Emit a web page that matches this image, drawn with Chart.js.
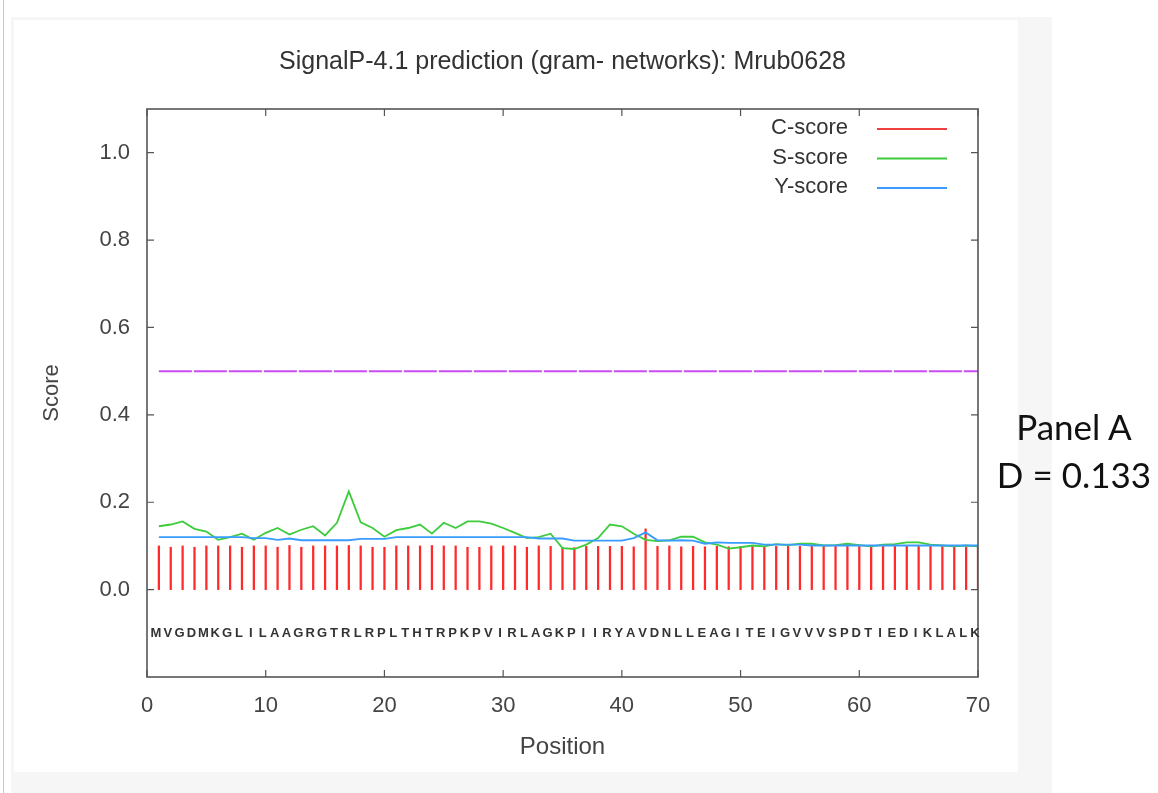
<!DOCTYPE html>
<html>
<head>
<meta charset="utf-8">
<script src="https://cdn.jsdelivr.net/npm/chart.js@4.4.1/dist/chart.umd.min.js"></script>
<style>
  body { margin: 0; background: #fff; width: 1158px; height: 793px; overflow: hidden; position: relative; font-family: 'Liberation Sans', Arial, sans-serif; }
  #edge { position: absolute; left: 3px; top: 0; width: 1px; height: 793px; background: #c8c8c8; }
  #frame { position: absolute; left: 11px; top: 17px; width: 1041px; height: 776px; background: #f6f6f6; }
  #inner { position: absolute; left: 14px; top: 20px; width: 1004px; height: 752px; background: #fff; }
  #chart { position: absolute; left: 0; top: 0; }
  #note { position: absolute; left: 985px; top: 402px; width: 178px; text-align: center; font-family: Lato, 'Open Sans', sans-serif; font-size: 35px; line-height: 48px; color: #111; }
</style>
</head>
<body>
<div id="edge"></div>
<div id="frame"></div>
<div id="inner"></div>
<canvas id="chart" width="1158" height="793"></canvas>
<div id="note">Panel A<br>D = 0.133</div>
<script>
const chartTitle = 'SignalP-4.1 prediction (gram- networks): Mrub0628';
const residues = ['M','V','G','D','M','K','G','L','I','L','A','A','G','R','G','T','R','L','R','P',
  'L','T','H','T','R','P','K','P','V','I','R','L','A','G','K','P','I','I','R','Y',
  'A','V','D','N','L','L','E','A','G','I','T','E','I','G','V','V','V','S','P','D',
  'T','I','E','D','I','K','L','A','L','K'];

const cScore = [0.100, 0.097, 0.100, 0.097, 0.100, 0.100, 0.100, 0.097, 0.100, 0.100,
  0.097, 0.101, 0.097, 0.100, 0.100, 0.100, 0.101, 0.100, 0.097, 0.097,
  0.100, 0.100, 0.100, 0.101, 0.100, 0.100, 0.097, 0.097, 0.100, 0.100,
  0.100, 0.097, 0.100, 0.099, 0.097, 0.096, 0.099, 0.099, 0.099, 0.099,
  0.098, 0.139, 0.099, 0.100, 0.098, 0.099, 0.098, 0.099, 0.098, 0.099,
  0.100, 0.099, 0.099, 0.099, 0.099, 0.099, 0.099, 0.099, 0.099, 0.099,
  0.099, 0.099, 0.099, 0.099, 0.099, 0.099, 0.099, 0.099, 0.098, 0.098];

const sScore = [0.145, 0.149, 0.156, 0.139, 0.133, 0.114, 0.120, 0.128, 0.114, 0.130,
  0.141, 0.126, 0.137, 0.145, 0.124, 0.153, 0.225, 0.154, 0.141, 0.121,
  0.136, 0.141, 0.149, 0.128, 0.153, 0.141, 0.156, 0.156, 0.151, 0.141,
  0.130, 0.118, 0.120, 0.128, 0.095, 0.093, 0.103, 0.118, 0.149, 0.145,
  0.128, 0.114, 0.111, 0.113, 0.121, 0.121, 0.108, 0.103, 0.094, 0.097,
  0.101, 0.099, 0.104, 0.102, 0.105, 0.105, 0.101, 0.102, 0.105, 0.102,
  0.099, 0.103, 0.104, 0.108, 0.108, 0.103, 0.101, 0.099, 0.101, 0.099];

const yScore = [0.120, 0.120, 0.120, 0.120, 0.120, 0.120, 0.120, 0.120, 0.118, 0.118,
  0.114, 0.117, 0.113, 0.113, 0.113, 0.113, 0.113, 0.116, 0.116, 0.116,
  0.120, 0.120, 0.120, 0.120, 0.120, 0.120, 0.120, 0.120, 0.120, 0.120,
  0.120, 0.120, 0.117, 0.117, 0.117, 0.112, 0.112, 0.112, 0.112, 0.112,
  0.118, 0.131, 0.113, 0.112, 0.113, 0.112, 0.105, 0.108, 0.107, 0.107,
  0.107, 0.103, 0.103, 0.103, 0.103, 0.101, 0.101, 0.101, 0.101, 0.101,
  0.101, 0.101, 0.101, 0.101, 0.101, 0.101, 0.101, 0.101, 0.101, 0.101];

const cutoff = 0.5;
const xTicks = [0, 10, 20, 30, 40, 50, 60, 70];
const yTicks = [0.0, 0.2, 0.4, 0.6, 0.8, 1.0];
const yTickLabels = ['0.0', '0.2', '0.4', '0.6', '0.8', '1.0'];

const toPoints = arr => arr.map((v, i) => ({ x: i + 1, y: v }));
const FONT = '"Liberation Sans", Arial, sans-serif';

const gnuplotFrame = {
  id: 'gnuplotFrame',
  afterDraw(chart) {
    const { ctx, chartArea: a, scales: { x, y } } = chart;
    ctx.save();
    ctx.strokeStyle = '#555';
    ctx.lineWidth = 1.6;
    ctx.strokeRect(a.left, a.top, a.right - a.left, a.bottom - a.top);
    ctx.lineWidth = 1.2;
    ctx.beginPath();
    xTicks.forEach(v => {
      const px = x.getPixelForValue(v);
      ctx.moveTo(px, a.bottom); ctx.lineTo(px, a.bottom - 7);
      ctx.moveTo(px, a.top); ctx.lineTo(px, a.top + 7);
    });
    yTicks.forEach(v => {
      const py = y.getPixelForValue(v);
      ctx.moveTo(a.left, py); ctx.lineTo(a.left + 7, py);
      ctx.moveTo(a.right, py); ctx.lineTo(a.right - 7, py);
    });
    ctx.stroke();

    // title
    ctx.fillStyle = '#333';
    ctx.font = '25px ' + FONT;
    ctx.textAlign = 'center';
    ctx.textBaseline = 'middle';
    ctx.fillText(chartTitle, (a.left + a.right) / 2, 62);

    // sequence under the bars
    ctx.font = 'bold 13px ' + FONT;
    ctx.fillStyle = '#333';
    const sy = y.getPixelForValue(-0.1);
    residues.forEach((r, i) => ctx.fillText(r, x.getPixelForValue(i + 1) - 3, sy));

    // legend, inside top right
    ctx.font = '22px ' + FONT;
    ctx.textAlign = 'right';
    const items = chart.data.datasets.filter(d => d.inLegend);
    items.forEach((d, i) => {
      const ly = a.top + 19 + i * 29.5;
      ctx.fillStyle = '#333';
      ctx.fillText(d.label, a.right - 130, ly);
      ctx.strokeStyle = d.legendColor;
      ctx.lineWidth = 2;
      ctx.beginPath();
      ctx.moveTo(a.right - 101, ly + 1);
      ctx.lineTo(a.right - 31, ly + 1);
      ctx.stroke();
    });
    ctx.restore();
  }
};

new Chart(document.getElementById('chart'), {
  type: 'line',
  data: {
    datasets: [
      {
        label: 'cutoff',
        data: [{ x: 1, y: cutoff }, { x: 70, y: cutoff }],
        borderColor: '#c94cf5',
        borderWidth: 2,
        borderDash: [33, 2],
        pointRadius: 0,
        order: 4
      },
      {
        type: 'bar',
        label: 'C-score',
        inLegend: true,
        legendColor: '#f04040',
        data: toPoints(cScore),
        backgroundColor: '#ff2a2a',
        barThickness: 1.6,
        order: 3
      },
      {
        label: 'S-score',
        inLegend: true,
        legendColor: '#3ccc3c',
        data: toPoints(sScore),
        borderColor: '#3ccc3c',
        borderWidth: 1.8,
        pointRadius: 0,
        tension: 0,
        order: 2
      },
      {
        label: 'Y-score',
        inLegend: true,
        legendColor: '#3a9cff',
        data: toPoints(yScore),
        borderColor: '#3a9cff',
        borderWidth: 1.8,
        pointRadius: 0,
        tension: 0,
        order: 1
      }
    ]
  },
  options: {
    responsive: false,
    animation: false,
    devicePixelRatio: 1,
    layout: { padding: { left: 0, right: 180, top: 109, bottom: 0 } },
    plugins: { legend: { display: false }, title: { display: false }, tooltip: { enabled: false } },
    scales: {
      x: {
        type: 'linear',
        min: 0,
        max: 70,
        offset: false,
        afterBuildTicks: s => { s.ticks = xTicks.map(v => ({ value: v })); },
        afterFit: s => { s.height = 116; },
        grid: { display: false, drawTicks: false, offset: false },
        border: { display: false },
        ticks: { padding: 16, color: '#444', font: { size: 22, family: FONT } },
        title: { display: true, text: 'Position', color: '#444', padding: { top: 0, bottom: 31 }, font: { size: 24, family: FONT } }
      },
      y: {
        type: 'linear',
        min: -0.2,
        max: 1.1,
        afterBuildTicks: s => { s.ticks = yTicks.map(v => ({ value: v })); },
        afterFit: s => { s.width = 147; },
        grid: { display: false, drawTicks: false },
        border: { display: false },
        ticks: {
          padding: 17,
          color: '#444',
          font: { size: 22, family: FONT },
          callback: v => yTickLabels[yTicks.indexOf(v)]
        },
        title: { display: true, text: 'Score', color: '#444', padding: { top: 39, bottom: 0 }, font: { size: 22, family: FONT } }
      }
    }
  },
  plugins: [gnuplotFrame]
});
</script>
</body>
</html>
